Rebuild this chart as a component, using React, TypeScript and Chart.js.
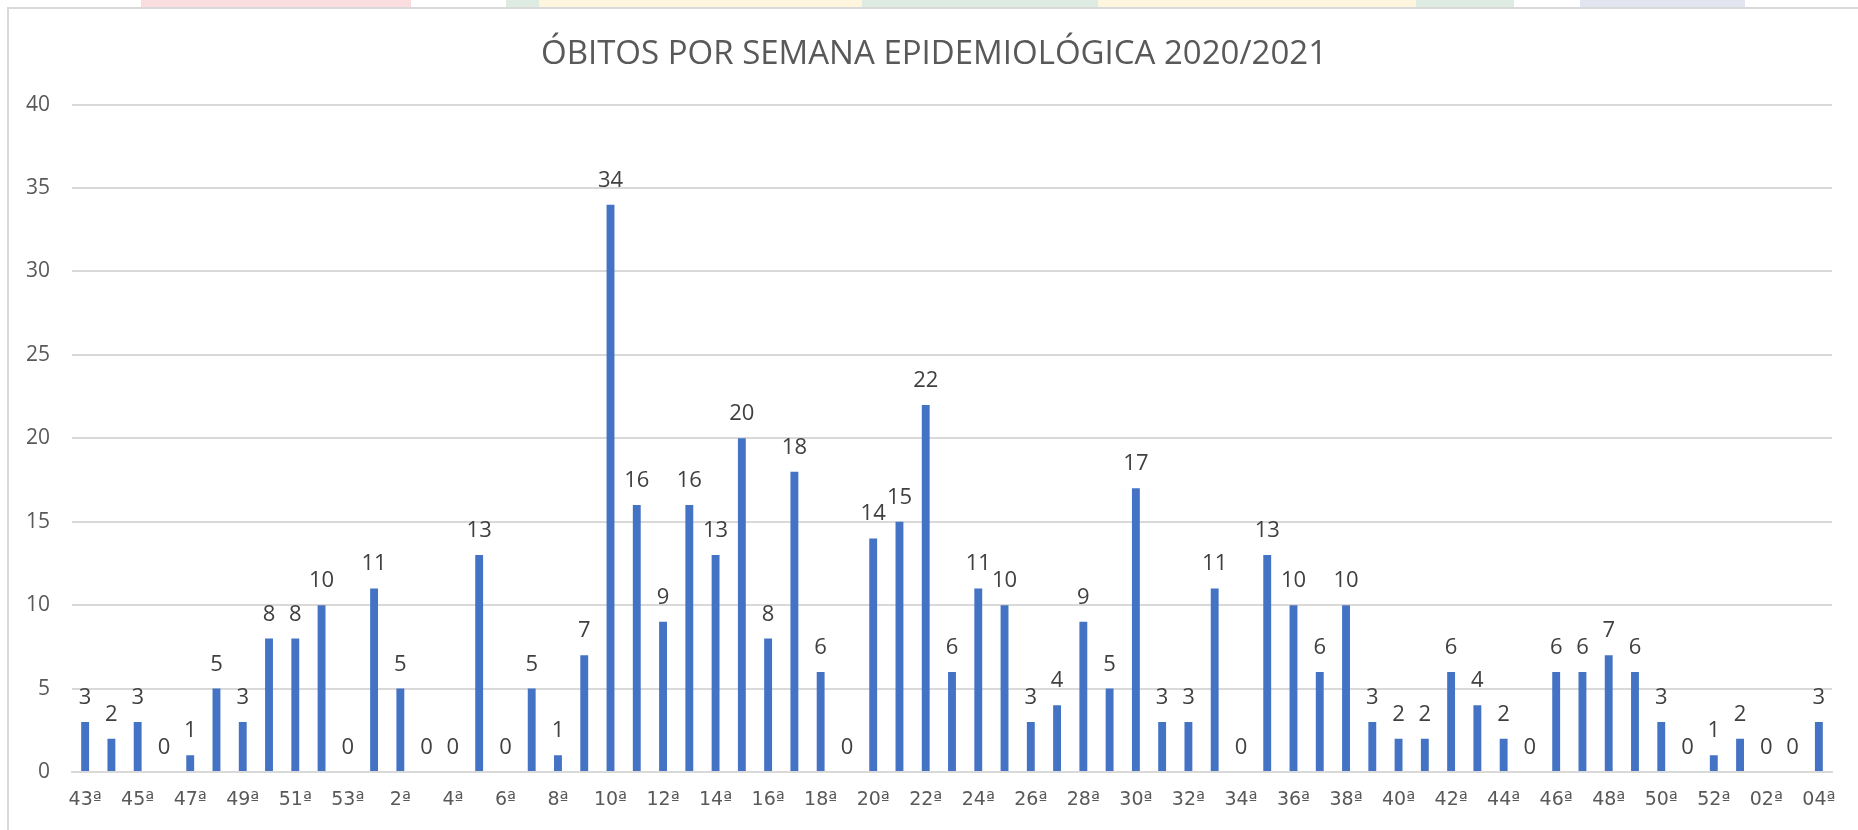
import React, { useEffect, useRef } from "react";
import { Chart, registerables } from "chart.js";

Chart.register(...registerables);

const weeks: string[] = [
  "43ª", "44ª", "45ª", "46ª", "47ª", "48ª", "49ª", "50ª", "51ª", "52ª", "53ª",
  "1ª", "2ª", "3ª", "4ª", "5ª", "6ª", "7ª", "8ª", "9ª", "10ª",
  "11ª", "12ª", "13ª", "14ª", "15ª", "16ª", "17ª", "18ª", "19ª", "20ª",
  "21ª", "22ª", "23ª", "24ª", "25ª", "26ª", "27ª", "28ª", "29ª", "30ª",
  "31ª", "32ª", "33ª", "34ª", "35ª", "36ª", "37ª", "38ª", "39ª", "40ª",
  "41ª", "42ª", "43ª", "44ª", "45ª", "46ª", "47ª", "48ª", "49ª", "50ª",
  "51ª", "52ª", "01ª", "02ª", "03ª", "04ª",
];

const deaths: number[] = [
  3, 2, 3, 0, 1, 5, 3, 8, 8, 10, 0,
  11, 5, 0, 0, 13, 0, 5, 1, 7, 34,
  16, 9, 16, 13, 20, 8, 18, 6, 0, 14,
  15, 22, 6, 11, 10, 3, 4, 9, 5, 17,
  3, 3, 11, 0, 13, 10, 6, 10, 3, 2,
  2, 6, 4, 2, 0, 6, 6, 7, 6, 3,
  0, 1, 2, 0, 0, 3,
];

const yTicks = { min: 0, max: 40, step: 5 };

const TITLE = "ÓBITOS POR SEMANA EPIDEMIOLÓGICA 2020/2021";
const FONT = "'Open Sans', 'Noto Sans', sans-serif";
const XFONT = "'DejaVu Sans', 'Liberation Sans', sans-serif";

const stripBlocks = [
  { left: 141, width: 270, color: "#FADDDE" },
  { left: 506, width: 34, color: "#DDEBE3" },
  { left: 539, width: 325, color: "#FDF5DE" },
  { left: 862, width: 236, color: "#DDEBE3" },
  { left: 1098, width: 318, color: "#FDF5DE" },
  { left: 1416, width: 98, color: "#DDEBE3" },
  { left: 1580, width: 165, color: "#E2E4EF" },
];

const valueLabels = {
  id: "valueLabels",
  afterDatasetsDraw(chart: any) {
    const ctx = chart.ctx;
    const meta = chart.getDatasetMeta(0);
    const data = chart.data.datasets[0].data as number[];
    ctx.save();
    ctx.font = `22px ${FONT}`;
    ctx.fillStyle = "#404040";
    ctx.textAlign = "center";
    ctx.textBaseline = "alphabetic";
    meta.data.forEach((bar: any, i: number) => {
      ctx.fillText(String(data[i]), bar.x, bar.y - 18);
    });
    ctx.restore();
  },
};

// centre the title over the area that starts 36px left of the plot
const titleShift = {
  id: "titleShift",
  afterLayout(chart: any) {
    if (chart.titleBlock) {
      chart.titleBlock.left = chart.chartArea.left - 36;
    }
  },
};

export default function App() {
  const ref = useRef<HTMLCanvasElement | null>(null);

  useEffect(() => {
    if (!ref.current) return;
    const chart = new Chart(ref.current, {
      type: "bar",
      data: {
        labels: weeks,
        datasets: [
          {
            data: deaths,
            backgroundColor: "#4472C4",
            borderWidth: 0,
            barPercentage: 0.3,
            categoryPercentage: 1,
          },
        ],
      },
      plugins: [valueLabels, titleShift],
      options: {
        responsive: false,
        animation: false,
        layout: { padding: { left: 0, right: 26, top: 0, bottom: 0 } },
        plugins: {
          legend: { display: false },
          tooltip: { enabled: false },
          title: {
            display: true,
            text: TITLE,
            color: "#595959",
            font: { family: FONT, size: 33, weight: "normal" },
            padding: { top: 26, bottom: 30 },
          },
        },
        scales: {
          x: {
            grid: { display: false, drawTicks: false },
            border: { display: true, color: "#D9D9D9", width: 2 },
            ticks: {
              autoSkip: false,
              maxRotation: 0,
              minRotation: 0,
              padding: 17,
              color: "#595959",
              font: { family: XFONT, size: 19 },
              callback: (_v: any, i: number) => (i % 2 === 0 ? weeks[i] : ""),
            },
            afterFit: (s: any) => {
              s.height = 58;
            },
          },
          y: {
            min: yTicks.min,
            max: yTicks.max,
            grid: { color: "#D9D9D9", lineWidth: 2, drawTicks: false },
            border: { display: false },
            ticks: {
              stepSize: yTicks.step,
              padding: 22,
              color: "#595959",
              font: { family: FONT, size: 21 },
            },
            afterFit: (s: any) => {
              s.width = 63;
            },
          },
        },
      },
    });
    return () => chart.destroy();
  }, []);

  return (
    <div
      style={{
        position: "fixed",
        left: 0,
        top: 0,
        width: 1858,
        height: 830,
        overflow: "hidden",
        background: "#FFFFFF",
      }}
    >
      {stripBlocks.map((b, i) => (
        <div
          key={i}
          style={{
            position: "absolute",
            top: 0,
            left: b.left,
            width: b.width,
            height: 7,
            background: b.color,
          }}
        />
      ))}
      <div
        style={{
          position: "absolute",
          left: 7,
          top: 7,
          right: 0,
          bottom: 0,
          borderLeft: "2px solid #D9D9D9",
          borderTop: "2px solid #D9D9D9",
          boxSizing: "border-box",
        }}
      />
      <canvas
        ref={ref}
        width={1849}
        height={821}
        style={{ position: "absolute", left: 9, top: 9, width: 1849, height: 821 }}
      />
    </div>
  );
}
